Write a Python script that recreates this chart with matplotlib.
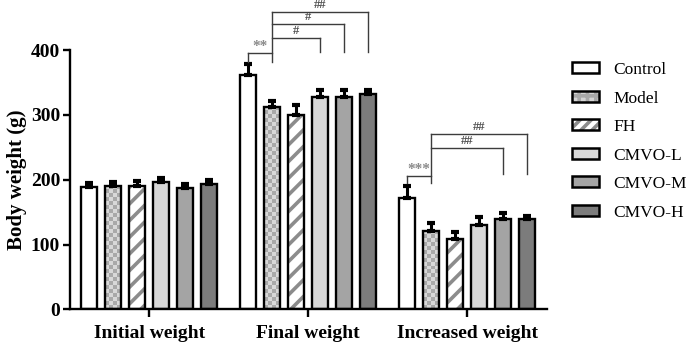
import numpy as np
import matplotlib
import matplotlib.pyplot as plt
from matplotlib.patches import Patch
from matplotlib.legend_handler import HandlerTuple

matplotlib.use('Agg')

# data
groups = ['Initial weight', 'Final weight', 'Increased weight']
series = ['Control', 'Model', 'FH', 'CMVO-L', 'CMVO-M', 'CMVO-H']
means = {
    'Control': [189, 362, 172],
    'Model':   [190, 312, 121],
    'FH':      [191, 300, 108],
    'CMVO-L':  [197, 327, 130],
    'CMVO-M':  [188, 328, 139],
    'CMVO-H':  [194, 333, 139],
}
errs = {
    'Control': [6, 17, 18],
    'Model':   [6, 10, 13],
    'FH':      [7, 15, 12],
    'CMVO-L':  [6, 12, 12],
    'CMVO-M':  [6, 11, 10],
    'CMVO-H':  [5, 6, 5],
}
y_ticks = [0, 100, 200, 300, 400]

face = {'Control': 'white', 'Model': '#d4d4d4', 'FH': 'white',
        'CMVO-L': '#d7d7d7', 'CMVO-M': '#a4a4a4', 'CMVO-H': '#7c7c7c'}

plt.rcParams['font.family'] = 'Liberation Serif'
plt.rcParams['hatch.linewidth'] = 2.6

fig = plt.figure(figsize=(6.92, 3.43), dpi=100)
ax = fig.add_axes([0.101, 0.098, 0.689, 0.756])

x = np.arange(len(groups))
width = 0.1
step = 0.151
centers = {}

for i, s in enumerate(series):
    xs = x + (i - 2.5) * step
    centers[s] = xs
    vals = means[s]
    if s == 'FH':
        ax.bar(xs, vals, width, color='white', edgecolor='#8c8c8c', hatch='//', lw=0, zorder=2)
    else:
        ax.bar(xs, vals, width, color=face[s], lw=0, zorder=2)
    if s == 'Model':
        # checkerboard fill, clipped to each bar
        for xc, v in zip(xs, vals):
            ny = max(1, int(round(v / 6.2)))
            chk = (np.indices((ny, 4)).sum(axis=0) % 2).astype(float)
            ax.imshow(chk, cmap=matplotlib.colors.ListedColormap(['#d8d8d8', '#a9a9a9']),
                      extent=(xc - width / 2, xc + width / 2, 0, v), aspect='auto',
                      interpolation='nearest', zorder=2.5)
    ax.bar(xs, vals, width, fill=False, edgecolor='black', lw=1.7, zorder=3)
    ax.errorbar(xs, vals, yerr=[np.zeros(len(vals)), errs[s]], fmt='none', ecolor='black',
                elinewidth=2.2, capsize=3.2, capthick=3, zorder=4)

ax.set_xlim(-0.5, 2.5)
ax.set_ylim(0, 400)
ax.set_yticks(y_ticks)
ax.set_xticks(x)
ax.set_xticklabels(groups, fontsize=14, fontweight='bold')
for lab in ax.get_yticklabels():
    lab.set_fontsize(14)
    lab.set_fontweight('bold')
ax.set_ylabel('Body weight (g)', fontsize=15, fontweight='bold', labelpad=3)
ax.spines['top'].set_visible(False)
ax.spines['right'].set_visible(False)
for sp in ['left', 'bottom']:
    ax.spines[sp].set_linewidth(1.7)
ax.tick_params(axis='both', width=1.7, length=5, pad=2)
ax.tick_params(axis='x', length=6, pad=5)

# significance brackets
line_kw = dict(color='#3c3c3c', lw=1, clip_on=False, zorder=5)


def seg(xa, ya, xb, yb):
    ax.plot([xa, xb], [ya, yb], **line_kw)


def label(xa, xb, y, txt, col, size=9):
    ax.text((xa + xb) / 2, y, txt, ha='center', va='bottom', fontsize=size,
            color=col, clip_on=False, fontweight='bold')


# final weight
c, m = centers['Control'][1], centers['Model'][1]
seg(c, 382, c, 396); seg(c, 396, m, 396)
seg(m, 382, m, 458)
label(c, m, 396, '**', '#8a8a8a', 11)
for s, top in [('CMVO-L', 418), ('CMVO-M', 440), ('CMVO-H', 458)]:
    t = centers[s][1]
    seg(m, top, t, top); seg(t, top, t, 397)
    label(m, t, top + 2, '#' if s != 'CMVO-H' else '##', '#505050')

# increased weight
c, m = centers['Control'][2], centers['Model'][2]
seg(c, 195, c, 205); seg(c, 205, m, 205)
seg(m, 195, m, 270)
label(c, m, 205, '***', '#8a8a8a', 11)
for s, top in [('CMVO-M', 249), ('CMVO-H', 270)]:
    t = centers[s][2]
    seg(m, top, t, top); seg(t, top, t, 209)
    label(m, t, top + 2, '##', '#505050')

# legend
outline = dict(fill=False, edgecolor='black', lw=1.8)
handles = []
for s in series:
    if s == 'Model':
        h = (Patch(facecolor='#d4d4d4', edgecolor='#a9a9a9', hatch='++', lw=0), Patch(**outline))
    elif s == 'FH':
        h = (Patch(facecolor='white', edgecolor='#8c8c8c', hatch='///', lw=0), Patch(**outline))
    else:
        h = (Patch(facecolor=face[s], lw=0), Patch(**outline))
    handles.append(h)
fig.legend(handles, series, loc='upper left', bbox_to_anchor=(0.826, 0.819), frameon=False,
           borderpad=0, borderaxespad=0, fontsize=12.5, labelspacing=0.72,
           handlelength=1.55, handleheight=0.6, handletextpad=0.85,
           handler_map={tuple: HandlerTuple(ndivide=1, pad=0)})

fig.savefig('out.png', dpi=100)
